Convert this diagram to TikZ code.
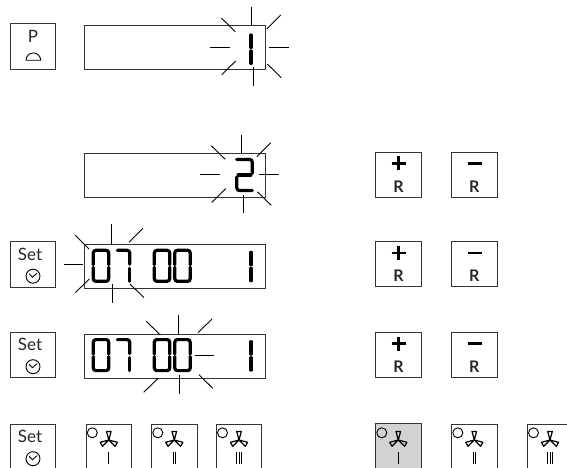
\documentclass[tikz,border=0pt]{standalone}
\usepackage{fontspec}
\setmainfont{Lato}
\usetikzlibrary{positioning}
\definecolor{boxline}{HTML}{333333}
\definecolor{pressed}{HTML}{D2D2D2}

\begin{document}
\begin{tikzpicture}[x=1pt,y=-1pt,line cap=round,
  panel/.style={draw=boxline,line width=1pt,minimum width=180.5pt,minimum height=44pt,inner sep=0pt},
  btn/.style={draw=boxline,line width=1pt,minimum width=45.5pt,minimum height=45.5pt,inner sep=0pt},
  lab/.style={inner sep=0pt,font=\fontsize{17}{17}\selectfont,text=black!85},
  rlab/.style={inner sep=0pt,font=\fontsize{16}{16}\selectfont\bfseries,text=black!85},
  ray/.style={line width=.9pt,line cap=butt},
  seg/.style={line width=3.2pt,rounded corners=2.6pt},
  pics/dzero/.style={code={
    \draw[seg] (0,14.5)--(0,0)--(15.4,0)--(15.4,14.5);
    \draw[seg] (0,17)--(0,31)--(15.4,31)--(15.4,17);}},
  pics/dseven/.style={code={
    \draw[seg] (0,0)--(12.4,0)--(12.4,14);
    \draw[seg] (12.4,18)--(12.4,31);}},
  pics/done/.style={code={
    \draw[seg] (0,0)--(0,12.5);
    \draw[seg] (0,16)--(0,28.5);}},
  pics/dtwo/.style={code={
    \draw[seg] (0,0)--(15.4,0)--(15.4,14);
    \draw[seg] (1.5,15.5)--(14,15.5);
    \draw[seg] (0,17.5)--(0,31)--(15.4,31);}},
  pics/clockicon/.style={code={
    \draw[line width=.9pt] (0,0) circle (7);
    \draw[line width=.9pt] (-3.6,-2.2)--(-.6,1)--(4,-3);}},
  pics/fanicon/.style={code={
    \foreach \r in {0,120,240}{
      \draw[line width=1.2pt,rotate=\r,line join=round] (0,0)--(-2.3,-8.6)--(2.3,-8.6)--cycle;
    }}}
]
  \useasboundingbox (0,0) rectangle (567,468);
  \clip (0,0) rectangle (567,468);

  % displays
  \foreach \n/\cy in {a/48,b/175.5,c/266,d/356.7}{
    \node[panel] (disp\n) at (174.8,\cy) {};
  }
  \pic at (251,35) {done};
  \pic at (236.8,159.5) {dtwo};
  \foreach \yy in {250.3,339.6}{
    \pic at (93.3,\yy) {dzero};
    \pic at (117.3,\yy) {dseven};
    \pic at (154.3,\yy) {dzero};
    \pic at (174.8,\yy) {dzero};
    \pic at (251,\yy+2) {done};
  }

  % flashing rays
  \foreach \xs/\ys in {0/0,-10/127.7}{
    \begin{scope}[shift={(\xs,\ys)}]
      \foreach \xa/\ya/\xb/\yb in {251.7/7/251.7/25,266.7/29/280.7/15,269/47/288.7/47,
        267.3/64/281.3/77.7,253/67/253/85.7,235.7/61/221.7/74.7,210.3/47/230/47,221.3/18/235.3/31.7}{
        \draw[ray] (\xa,\ya)--(\xb,\yb);
      }
    \end{scope}
  }
  \foreach \xa/\ya/\xb/\yb in {111/224.3/111/244.3,129/242.3/143/228.3,64/264.7/83.3/264.7,75/235/89/249,
    75.3/292.7/89.3/279,130/284/144/297.7,112/284.3/112/303.3,
    146.3/321.3/160.3/335,178.3/315.3/178.3/334.3,198/332.7/212/319,194.7/355.7/214/355.7,
    199/374.7/212.7/388.3,179.7/375.3/179.7/394.3,157.7/378.7/143.7/392.3}{
    \draw[ray] (\xa,\ya)--(\xb,\yb);
  }

  % left buttons
  \node[btn] (pbtn) at (33,46.5) {};
  \node[lab] (plab) at (33,36.3) {P};
  \draw[line width=.9pt] (26,60.3)--(40.7,60.3) arc[start angle=0,end angle=-180,radius=7.35]--cycle;
  \foreach \n/\cy in {a/264.5,b/355,c/447}{
    \node[btn] (set\n) at (33,\cy) {};
    \node[lab] (setlab\n) at (30,\cy-10.5) {Set};
    \pic at (33,\cy+11.7) {clockicon};
  }

  % plus and minus
  \foreach \n/\cy in {a/174.8,b/264.2,c/355}{
    \node[btn] (plus\n) at (398.5,\cy) {};
    \node[btn] (minus\n) at (474.3,\cy) {};
    \node[rlab] (rp\n) at (398.5,\cy+11.5) {R};
    \node[rlab] (rm\n) at (474.3,\cy+11.5) {R};
    \draw[line width=2.4pt,line cap=butt] (391.5,\cy-11.5)--(405.5,\cy-11.5);
    \draw[line width=2.4pt,line cap=butt] (398.5,\cy-18.5)--(398.5,\cy-4.5);
    \draw[line width=2.4pt,line cap=butt] (467.5,\cy-11.5)--(481.5,\cy-11.5);
  }

  % fan buttons
  \node[btn,fill=pressed] (fanp) at (398.3,446) {};
  \foreach \n/\cx in {a/108.8,b/174.3,c/239,d/474.3,e/550}{
    \node[btn] (fan\n) at (\cx,447) {};
  }
  \foreach \cx/\k in {108.8/1,174.3/2,239/3,398.3/1,474.3/2,550/3}{
    \pic at (\cx,440) {fanicon};
    \draw[line width=.9pt] (\cx-16.5,432.8) circle (5);
    \foreach \j in {1,...,\k}{
      \draw[line width=.8pt,line cap=butt] ({\cx+(\j-(\k+1)/2)*2.8},452)--({\cx+(\j-(\k+1)/2)*2.8},464);
    }
  }
\end{tikzpicture}
\end{document}
